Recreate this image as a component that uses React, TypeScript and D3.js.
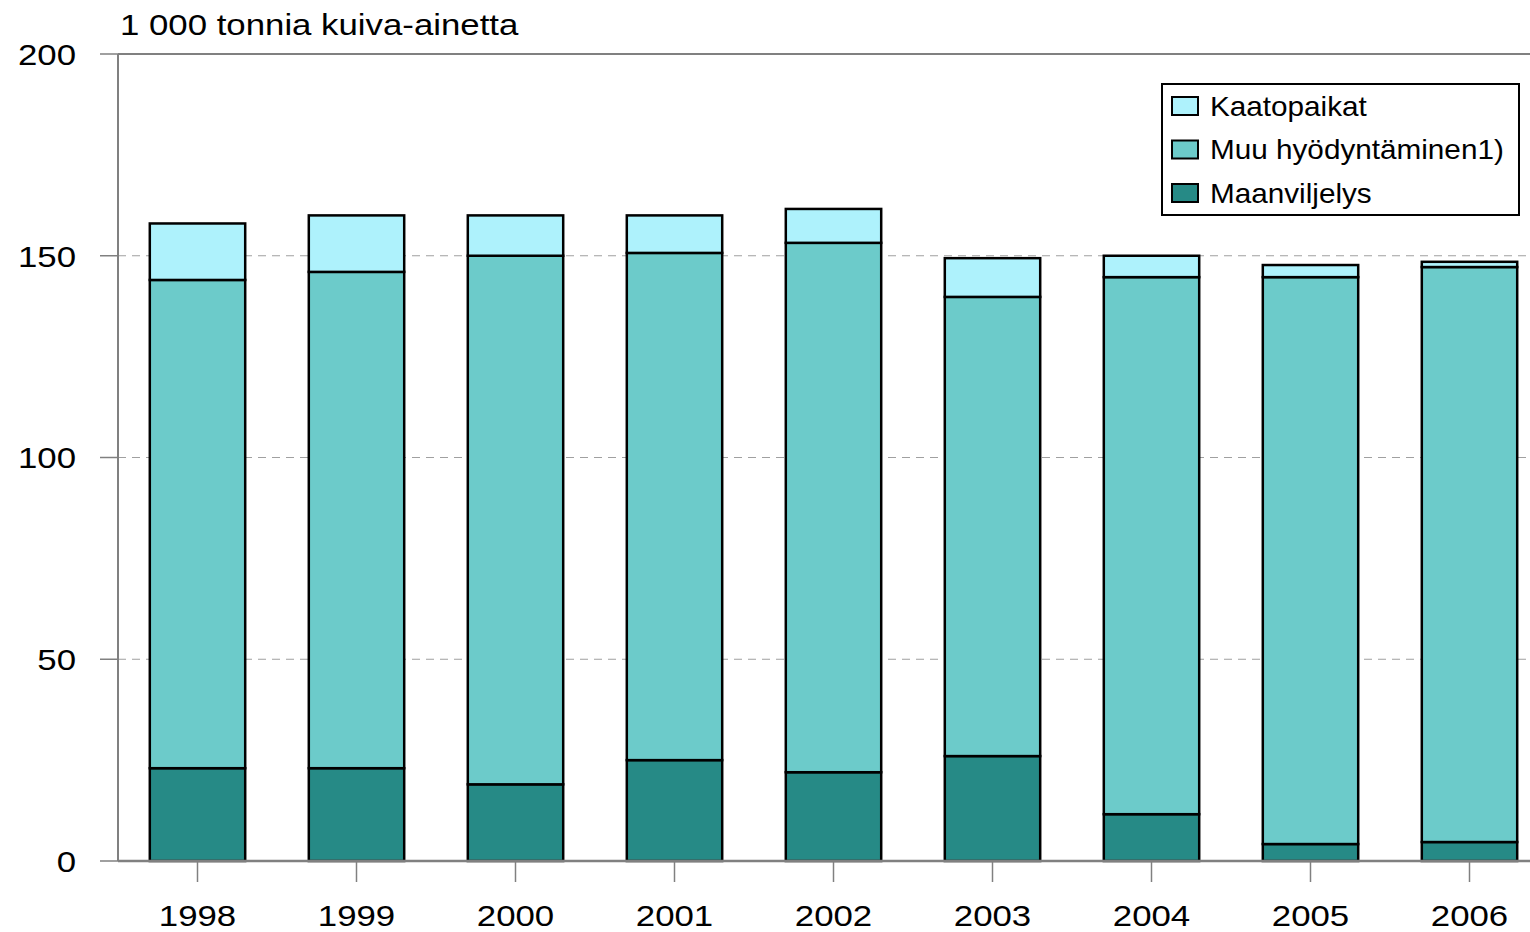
import React from "react";
import * as d3 from "d3";

const years = ["1998", "1999", "2000", "2001", "2002", "2003", "2004", "2005", "2006"];
const maanviljelys = [23, 23, 19, 25, 22, 26, 11.6, 4.2, 4.7];
const muuHyodyntaminen = [121, 123, 131, 125.7, 131.2, 113.8, 133.1, 140.5, 142.5];
const kaatopaikat = [14, 14, 10, 9.3, 8.4, 9.6, 5.3, 3, 1.3];
const yTicks = [0, 50, 100, 150, 200];

const seriesNames = ["Maanviljelys", "Muu hyödyntäminen1)", "Kaatopaikat"];
const colors = ["#268A86", "#6CCBCA", "#AEF2FC"];

function T(props: { x: number; y: number; sx: number; size: number; anchor?: string; dy?: string; children: any }) {
  return (
    <text transform={`translate(${props.x},${props.y}) scale(${props.sx},1)`} dy={props.dy}
      textAnchor={props.anchor || "start"} fontSize={props.size} fill="#000">{props.children}</text>
  );
}

export default function App() {
  const W = 1530, H = 932;
  const left = 118, top = 54, bottom = 861, right = 1549;
  const x = d3.scaleBand().domain(years).range([left, right]).paddingInner(0.4).paddingOuter(0.2);
  const y = d3.scaleLinear().domain([0, 200]).range([bottom, top]);
  const rows = years.map((yr, i) => ({ year: yr, m: maanviljelys[i], h: muuHyodyntaminen[i], k: kaatopaikat[i] }));
  const stacked = d3.stack<any>().keys(["m", "h", "k"])(rows);
  const font = "Arial, 'Liberation Sans', sans-serif";
  const legendItems = [
    { name: seriesNames[2], color: colors[2] },
    { name: seriesNames[1], color: colors[1] },
    { name: seriesNames[0], color: colors[0] },
  ];
  const sx = 1.16;
  return (
    <svg width={W} height={H} style={{ position: "absolute", left: 0, top: 0, background: "#fff" }} fontFamily={font}>
      {yTicks.filter(t => t > 0 && t < 200).map(t => (
        <line key={t} x1={left} x2={W} y1={y(t)} y2={y(t)} stroke="#A0A0A0" strokeWidth={1.2} strokeDasharray="8,6" />
      ))}
      <line x1={left} x2={W} y1={top} y2={top} stroke="#808080" strokeWidth={2} />
      {stacked.map((s, si) => (
        <g key={si}>
          {s.map((d: any, i: number) => (
            <rect key={i} x={x(years[i])!} width={x.bandwidth()} y={y(d[1])} height={y(d[0]) - y(d[1])}
              fill={colors[si]} stroke="#000" strokeWidth={2.5} />
          ))}
        </g>
      ))}
      <line x1={left} x2={left} y1={top} y2={bottom} stroke="#808080" strokeWidth={2} />
      <line x1={left} x2={W} y1={bottom} y2={bottom} stroke="#808080" strokeWidth={2.5} />
      {yTicks.map(t => (
        <g key={t}>
          <line x1={100} x2={left} y1={y(t)} y2={y(t)} stroke="#808080" strokeWidth={1.5} />
          <T x={76} y={y(t)} dy="0.36em" anchor="end" size={30} sx={sx}>{t}</T>
        </g>
      ))}
      {years.map(yr => {
        const cx = x(yr)! + x.bandwidth() / 2;
        return (
          <g key={yr}>
            <line x1={cx} x2={cx} y1={bottom} y2={882} stroke="#808080" strokeWidth={1.5} />
            <T x={cx} y={926} anchor="middle" size={30} sx={sx}>{yr}</T>
          </g>
        );
      })}
      <T x={120} y={35} size={30} sx={sx}>1 000 tonnia kuiva-ainetta</T>
      <rect x={1162} y={84} width={357} height={131} fill="#fff" stroke="#000" strokeWidth={2} />
      {legendItems.map((it, i) => (
        <g key={i}>
          <rect x={1172} y={97 + i * 43.5} width={26} height={18} fill={it.color} stroke="#000" strokeWidth={2} />
          <T x={1210} y={106 + i * 43.5} dy="0.36em" size={27} sx={1.1}>{it.name}</T>
        </g>
      ))}
    </svg>
  );
}
